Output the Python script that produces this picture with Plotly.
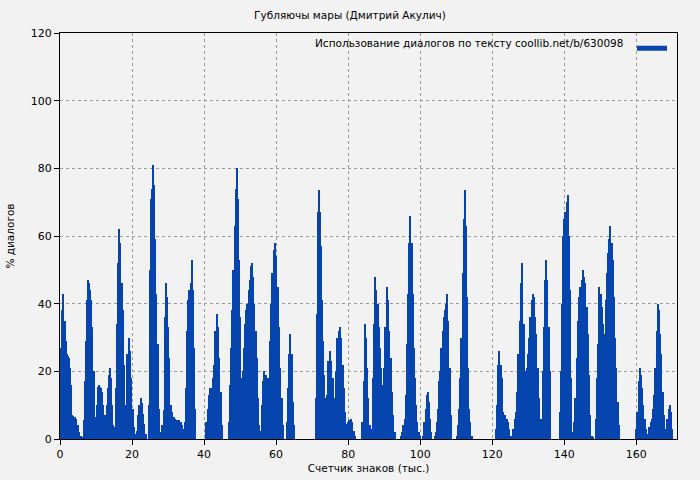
import numpy as np
import plotly.graph_objects as go

title = "Губляючы мары (Дмитрий Акулич)"
series_name = "Использование диалогов по тексту coollib.net/b/630098"

seg_start = [0.0, 3.4, 6.7, 10.2, 13.0, 15.5, 18.7, 20.5, 21.7, 24.7, 27.6, 29.0, 30.4, 35.0,
             40.7, 46.9, 50.4, 55.2, 56.0, 63.0, 71.0, 73.8, 79.2, 84.0, 86.6, 90.0, 94.7,
             100.9, 104.0, 110.2, 121.0, 125.9, 129.3, 133.7, 138.8, 142.4, 148.8, 160.0]
seg_end = [3.2, 6.2, 9.9, 12.7, 15.3, 18.4, 20.3, 21.5, 23.8, 27.4, 28.8, 30.2, 34.8, 37.6,
           45.0, 50.1, 55.0, 55.6, 62.0, 65.0, 73.6, 79.0, 82.0, 86.0, 89.8, 93.0, 99.9,
           103.0, 108.5, 114.3, 125.4, 129.1, 133.3, 136.0, 142.2, 148.0, 155.2, 170.0]
seg_values = [
    [16, 27, 38, 43, 35, 29, 25, 24.5, 24, 21, 16],
    [7, 6.8, 6.5, 6, 4, 2, 1, 0.3],
    [5.6, 17, 29, 41, 47, 46, 44, 41, 33, 20, 6.5, 6],
    [10, 15.5, 16, 15.5, 15, 14, 10, 7, 6],
    [10, 15, 19, 21, 18, 10, 4, 2, 3.5],
    [15, 34, 52, 62, 58, 46, 38, 22, 10, 5],
    [25, 30, 26, 18, 9],
    [3.5, 1, 1.5, 2.5],
    [7, 10, 12, 10.5, 7.5, 4.5, 1.5],
    [10, 50, 71, 74, 81, 75, 59, 43, 28, 9],
    [3, 2, 4, 8.5],
    [25, 36, 46, 42, 33, 24],
    [15, 10, 8, 6.5, 6, 5.5, 5.5, 5.5, 5, 4, 3, 5],
    [15, 32, 41, 44, 46, 53, 44, 27, 9],
    [5, 9, 13, 15, 15, 18, 22, 32, 37, 33, 24, 14, 4],
    [5, 16, 27, 38, 50, 63, 74, 80, 71, 53, 36],
    [18, 20, 27, 34, 38, 40, 44, 47, 51, 52, 48, 40, 32, 24, 12],
    [4, 2.5, 2.5],
    [10, 17, 20, 19, 16, 18, 29, 40, 49, 56, 58, 54, 45, 33, 21, 12, 4],
    [5, 15, 25, 31, 25, 11, 4],
    [12, 37, 67, 73.5, 67, 57, 41, 29, 19, 12],
    [6, 13, 23, 26, 23, 18, 12, 20, 30, 32, 33, 30, 22, 15],
    [8, 4.5, 5, 5.5, 6, 5, 2.5, 1],
    [5, 17, 34, 30, 21, 12, 4],
    [3, 18, 34, 48, 44, 40, 33, 27, 21, 16, 12],
    [21, 33, 45, 41, 32, 24, 14, 7, 2],
    [1, 2, 4, 6, 13, 28, 43, 58, 66, 58, 43, 27, 18, 10, 5, 2, 1],
    [1, 5, 9, 13, 14, 11, 6, 2],
    [1, 2, 5, 9, 17, 20, 27, 32, 36, 38, 40, 43, 35, 21, 7],
    [1, 4, 9, 18, 30, 49, 65, 73.5, 63, 42, 21, 9, 5, 1],
    [3, 10, 22, 26, 22, 18, 8, 6, 7, 6, 5, 3, 1, 1],
    [3, 6, 8, 14, 25, 35, 46, 52, 34, 20],
    [18, 21, 25, 30, 36, 41, 43, 42, 36, 31, 21, 12, 4],
    [6, 20, 33, 47, 53, 47, 33, 20],
    [8, 20, 40, 60, 65, 67, 70, 72, 60, 44, 18, 2],
    [2, 5, 12, 24, 35, 42, 45, 47, 50, 48, 46, 39, 31, 19, 7, 1, 0.5],
    [6, 18, 28, 45, 43, 39, 34, 31, 41, 49, 55, 59, 63, 58, 53, 42, 30, 21, 11, 4],
    [3, 8, 17, 21, 19, 15, 10, 6, 3, 1.5, 1.5, 3.5, 5, 6, 9, 13, 21, 32, 40, 38, 31, 25,
     14, 7, 2, 3, 6, 9, 10, 8, 3],
]

xs, ys, ws = [], [], []
for s, e, v in zip(seg_start, seg_end, seg_values):
    n = len(v)
    pos = np.linspace(s, e, n)
    step = (e - s) / (n - 1) if n > 1 else 0.3
    xs.extend(pos)
    ys.extend(v)
    ws.extend([step * 1.02] * n)

color = "#0645ad"
fig = go.Figure()
fig.add_trace(go.Bar(x=xs, y=ys, width=ws, marker=dict(color=color, line=dict(width=0)),
                     showlegend=False))
fig.add_trace(go.Scatter(x=[None], y=[None], mode="lines", name="\u200b",
                         line=dict(color=color, width=5)))

axis_common = dict(showline=True, linecolor="black", linewidth=1, mirror=True,
                   ticks="outside", ticklen=5, tickcolor="black", automargin=False,
                   showgrid=True, gridcolor="#999999", griddash="dot", gridwidth=1,
                   zeroline=False, tickfont=dict(size=11, color="black"))
fig.update_layout(
    width=700, height=480,
    paper_bgcolor="#f2f2f2", plot_bgcolor="#f2f2f2",
    margin=dict(l=60, r=23, t=33, b=41, autoexpand=False),
    font=dict(family="DejaVu Sans", size=11, color="black"),
    title=dict(text=title, x=0.5, xanchor="center", y=0.975, yanchor="top",
               font=dict(size=10.5)),
    bargap=0,
    legend=dict(x=1.0, y=0.998, xanchor="right", yanchor="top", itemwidth=30,
                bgcolor="rgba(0,0,0,0)", font=dict(size=10.5)),
    annotations=[dict(text=series_name, xref="paper", yref="paper", x=0.9157, y=0.975,
                      xanchor="right", yanchor="middle", showarrow=False,
                      font=dict(size=10.5))],
    xaxis=dict(range=[0, 171.3], dtick=20, title=dict(text="Счетчик знаков (тыс.)",
               font=dict(size=10.5), standoff=4), **axis_common),
    yaxis=dict(range=[0, 120], dtick=20, title=dict(text="% диалогов",
               font=dict(size=10.5), standoff=14), **axis_common),
)
fig.write_html("out.html", config={"displayModeBar": False},
               post_script="document.body.style.margin='0';document.body.style.background='#f2f2f2';")
